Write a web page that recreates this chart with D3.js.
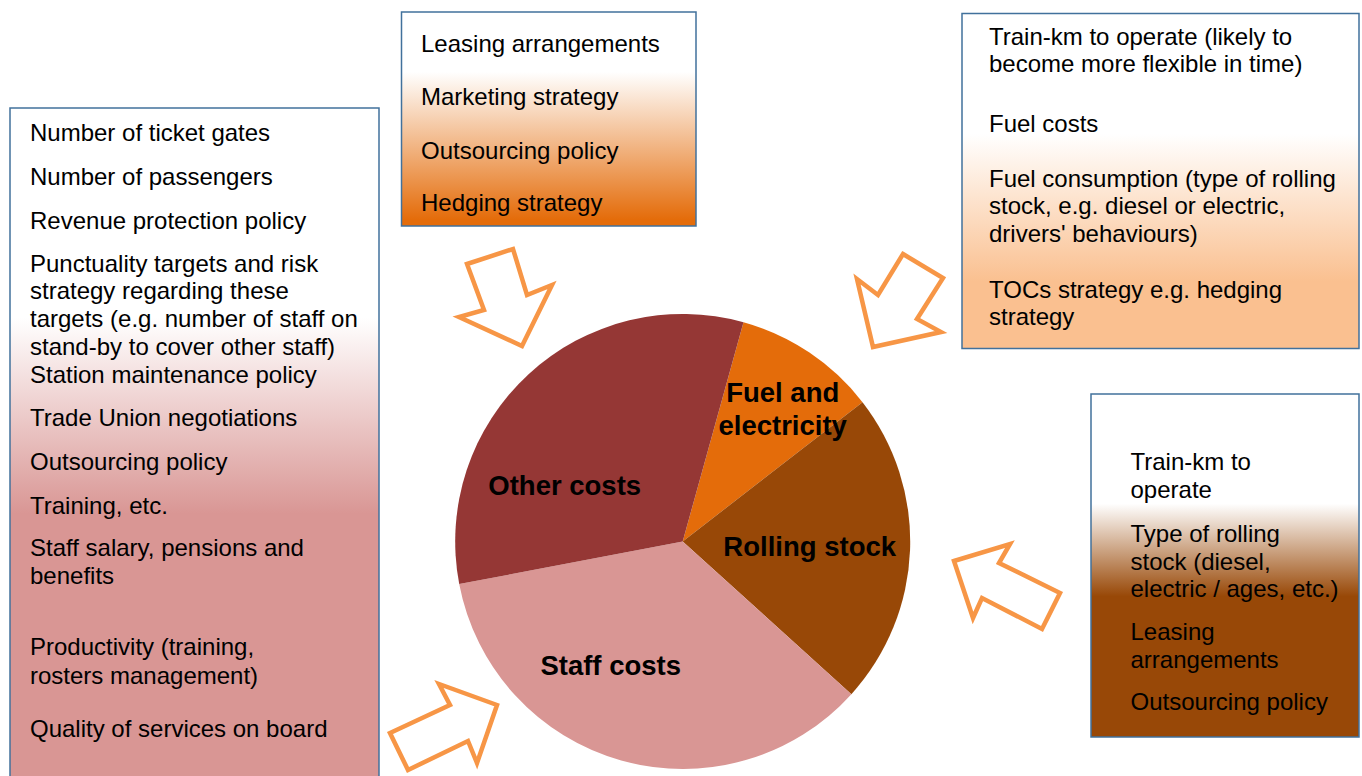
<!DOCTYPE html>
<html><head><meta charset="utf-8">
<script src="https://cdn.jsdelivr.net/npm/d3@7"></script>
<style>
html,body{margin:0;padding:0;background:#fff;}
svg{display:block;}
text{font-family:"Liberation Sans",Arial,Helvetica,sans-serif;}
</style></head>
<body>
<svg id="chart" width="1362" height="776"></svg>
<script>
// ---- data ----
const categories = ["Fuel and electricity", "Rolling stock", "Staff costs", "Other costs"];
const shares = [10.2, 22.2, 35.3, 32.3];
const sliceColors = ["#E46C0A", "#984807", "#D99694", "#953735"];
const labelLines = [["Fuel and", "electricity"], ["Rolling stock"], ["Staff costs"], ["Other costs"]];

const topBoxLines = ["Leasing arrangements", "Marketing strategy", "Outsourcing policy", "Hedging strategy"];
const leftBoxLines = ["Number of ticket gates", "Number of passengers", "Revenue protection policy",
  "Punctuality targets and risk", "strategy regarding these", "targets (e.g. number of staff on",
  "stand-by to cover other staff)", "Station maintenance policy", "Trade Union negotiations",
  "Outsourcing policy", "Training, etc.", "Staff salary, pensions and", "benefits",
  "Productivity (training,", "rosters management)", "Quality of services on board"];
const topRightLines = ["Train-km to operate (likely to", "become more flexible in time)", "Fuel costs",
  "Fuel consumption (type of rolling", "stock, e.g. diesel or electric,", "drivers' behaviours)",
  "TOCs strategy e.g. hedging", "strategy"];
const bottomRightLines = ["Train-km to", "operate", "Type of rolling", "stock (diesel,",
  "electric / ages, etc.)", "Leasing", "arrangements", "Outsourcing policy"];

// ---- layout ----
const svg = d3.select("#chart");
const defs = svg.append("defs");
function grad(id, stops){
  const g = defs.append("linearGradient").attr("id", id).attr("x1",0).attr("y1",0).attr("x2",0).attr("y2",1);
  stops.forEach(s => g.append("stop").attr("offset", s[0]).attr("stop-color", s[1]));
}
grad("gTop", [[0,"#fff"],[0.28,"#fff"],[0.97,"#E46C0A"],[1,"#E46C0A"]]);
grad("gLeft", [[0,"#fff"],[0.30,"#fff"],[0.58,"#D99694"],[1,"#D99694"]]);
grad("gTR", [[0,"#fff"],[0.36,"#fff"],[0.80,"#FAC090"],[1,"#FAC090"]]);
grad("gBR", [[0,"#fff"],[0.32,"#fff"],[0.59,"#984807"],[1,"#984807"]]);

const boxes = [
  {x:401.5, y:12, w:294.5, h:214, fill:"url(#gTop)", tx:421, lines:topBoxLines,
   base:[52,104.5,158.5,211]},
  {x:10, y:108, w:369, h:700, fill:"url(#gLeft)", tx:30, lines:leftBoxLines,
   base:[141,185,228.5,272,298.5,326.5,355,383,426,469.5,513.5,556,583.5,655,683.5,737]},
  {x:962, y:13.5, w:397, h:335, fill:"url(#gTR)", tx:989, lines:topRightLines,
   base:[45,72,132,187,214,242,297.5,324.5]},
  {x:1091, y:394, w:268, h:343, fill:"url(#gBR)", tx:1130.5, lines:bottomRightLines,
   base:[470,497.5,542,569.5,597,640,667.5,710]}
];
boxes.forEach(b => {
  svg.append("rect").attr("x",b.x).attr("y",b.y).attr("width",b.w).attr("height",b.h)
    .attr("fill",b.fill).attr("stroke","#41719C").attr("stroke-width",1.5);
  svg.append("g").selectAll("text").data(b.lines).join("text")
    .attr("x", b.tx).attr("y", (d,i)=>b.base[i])
    .attr("font-size", 24).attr("fill","#000").text(d=>d);
});

// arrows
const arrows = [
  [[467,264],[513,249],[527,295],[552,285],[522,346],[459,317],[484,310]],
  [[903,254],[943,278],[917,319],[941,332],[873,347],[857,279],[878,295]],
  [[390,733],[450,705],[439,684],[497,705],[477,763],[468,741],[408,770]],
  [[954,561],[1010,544],[999,563],[1060,593],[1042,629],[982,598],[973,618]]
];
svg.append("g").selectAll("polygon").data(arrows).join("polygon")
  .attr("points", d => d.map(p=>p.join(",")).join(" "))
  .attr("fill","#fff").attr("stroke","#F79646").attr("stroke-width",4.5).attr("stroke-linejoin","miter");

// pie
const cx = 682.7, cy = 541.5, R = 227.5;
const start = 15.5 * Math.PI / 180;
const pie = d3.pie().sort(null).value(d=>d).startAngle(start).endAngle(start + 2*Math.PI);
const arcs = pie(shares);
const arc = d3.arc().innerRadius(0).outerRadius(R);
const pg = svg.append("g").attr("transform", `translate(${cx},${cy})`);
pg.selectAll("path").data(arcs).join("path")
  .attr("d", arc).attr("fill", (d,i)=>sliceColors[i]);

// label placement relative to pie centre (label offsets)
const labelOffsets = [[100,-140],[127,14],[-72,133],[-118,-47]];
const lg = pg.append("g");
arcs.forEach((a,i) => {
  const t = lg.append("text").attr("text-anchor","middle").attr("font-weight","bold")
    .attr("font-size",27.5).attr("fill","#000")
    .attr("x", labelOffsets[i][0]).attr("y", labelOffsets[i][1]);
  labelLines[i].forEach((ln,j) => {
    t.append("tspan").attr("x", labelOffsets[i][0]).attr("dy", j===0?0:33.5).text(ln);
  });
});
</script>
</body></html>
